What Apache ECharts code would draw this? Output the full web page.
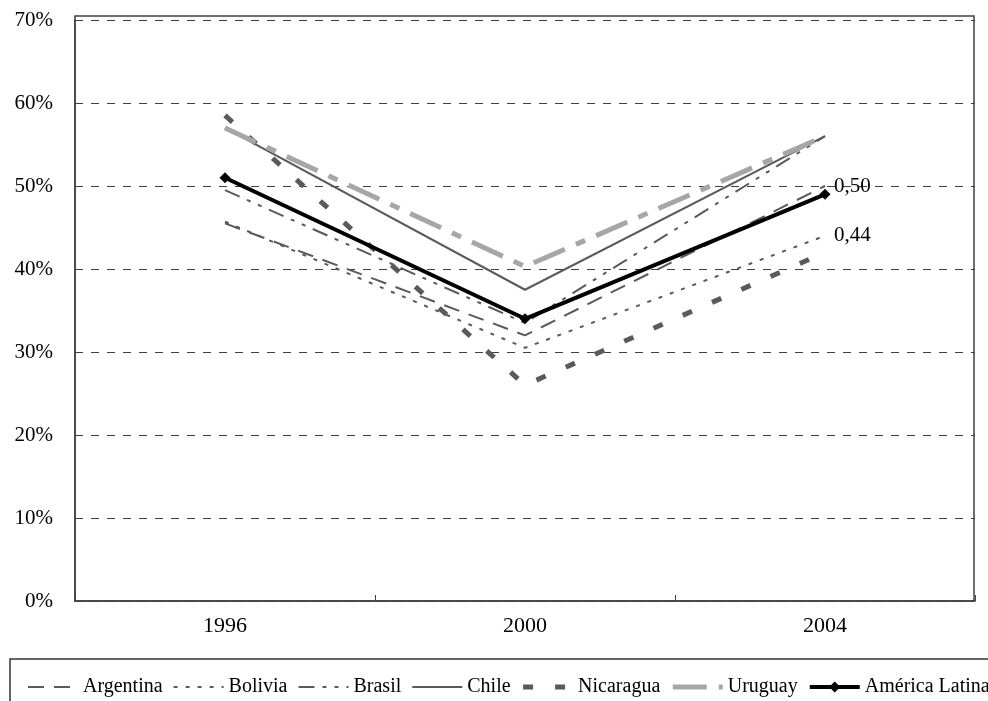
<!DOCTYPE html>
<html>
<head>
<meta charset="utf-8">
<script src="https://cdn.jsdelivr.net/npm/echarts@6/dist/echarts.min.js"></script>
<style>
html,body{margin:0;padding:0;background:#fff;}
#chart{width:988px;height:701px;}
</style>
</head>
<body>
<div id="chart"></div>
<script>
var years = ['1996', '2000', '2004'];
var argentina = [45.5, 32.0, 50.0];
var bolivia = [45.7, 30.5, 44.0];
var brasil = [49.5, 33.5, 56.0];
var chile = [57.0, 37.5, 56.0];
var nicaragua = [58.5, 26.0, 42.0];
var uruguay = [57.0, 40.3, 56.0];
var americaLatina = [51.0, 34.0, 49.0];
var yTicks = [0, 10, 20, 30, 40, 50, 60, 70];
// series whose last value carries a label (value shown as share, comma decimal)
var labelledSeries = ['Argentina', 'Bolivia'];

var FONT = '"Liberation Serif", "Times New Roman", serif';
var dark = '#5a5a5a';

function lineSeries(name, data, color, width, dash, extra) {
  var s = {
    name: name, type: 'line', data: data,
    symbol: 'none', smooth: false,
    lineStyle: { color: color, width: width, type: dash, cap: 'butt' },
    itemStyle: { color: 'rgba(0,0,0,0)', borderWidth: 0 },
    emphasis: { disabled: true },
    animation: false
  };
  if (labelledSeries.indexOf(name) >= 0) {
    s.endLabel = {
      show: true, distance: 9,
      formatter: function (p) { return (p.value / 100).toFixed(2).replace('.', ','); },
      fontFamily: FONT, fontSize: 21, color: '#000'
    };
  }
  if (extra) Object.assign(s, extra);
  return s;
}

var chart = echarts.init(document.getElementById('chart'));
chart.setOption({
  backgroundColor: '#fff',
  animation: false,
  grid: { left: 75, right: 13, top: 20, bottom: 100, containLabel: false },
  xAxis: {
    type: 'category', data: years, boundaryGap: true,
    axisLine: { lineStyle: { color: '#404040', width: 1.5 } },
    axisTick: { show: true, inside: true, length: 6, lineStyle: { color: '#404040' } },
    axisLabel: { fontFamily: FONT, fontSize: 22, color: '#000', margin: 14 }
  },
  yAxis: {
    type: 'value', min: yTicks[0], max: yTicks[yTicks.length - 1], interval: 10,
    axisLine: { show: true, lineStyle: { color: '#404040', width: 1.5 } },
    axisTick: { show: true, inside: true, length: 5, lineStyle: { color: '#404040' } },
    axisLabel: { fontFamily: FONT, fontSize: 21, color: '#000', margin: 22, formatter: '{value}%' },
    splitLine: { show: true, lineStyle: { color: '#404040', width: 1, type: [8, 8] } }
  },
  legend: {
    left: 22, top: 672, width: 1200,
    orient: 'horizontal',
    itemWidth: 50, itemHeight: 14, itemGap: 10,
    itemStyle: { borderWidth: 0 },
    lineStyle: { width: 'inherit' },
    textStyle: { fontFamily: FONT, fontSize: 20, color: '#000' },
    data: ['Argentina', 'Bolivia', 'Brasil', 'Chile', 'Nicaragua', 'Uruguay', 'América Latina']
  },
  graphic: [
    { type: 'rect', z: -1, silent: true, shape: { x: 75, y: 16, width: 899, height: 585 },
      style: { fill: 'none', stroke: '#404040', lineWidth: 1.5 } },
    { type: 'rect', z: -1, silent: true, shape: { x: 10, y: 659, width: 1000, height: 60 },
      style: { fill: 'none', stroke: '#333', lineWidth: 1.5 } }
  ],
  series: [
    lineSeries('Argentina', argentina, dark, 2, [16, 10]),
    lineSeries('Bolivia', bolivia, dark, 2, [4, 8]),
    lineSeries('Brasil', brasil, dark, 2, [16, 8, 4, 8, 4, 8]),
    lineSeries('Chile', chile, dark, 2, 'solid'),
    lineSeries('Nicaragua', nicaragua, dark, 5, [10, 22]),
    lineSeries('Uruguay', uruguay, '#a6a6a6', 5, [34, 12, 10, 12]),
    lineSeries('América Latina', americaLatina, '#000', 4, 'solid', {
      symbol: 'diamond', symbolSize: 11, showSymbol: true, z: 5,
      itemStyle: { color: '#000' }
    })
  ]
});
</script>
</body>
</html>
